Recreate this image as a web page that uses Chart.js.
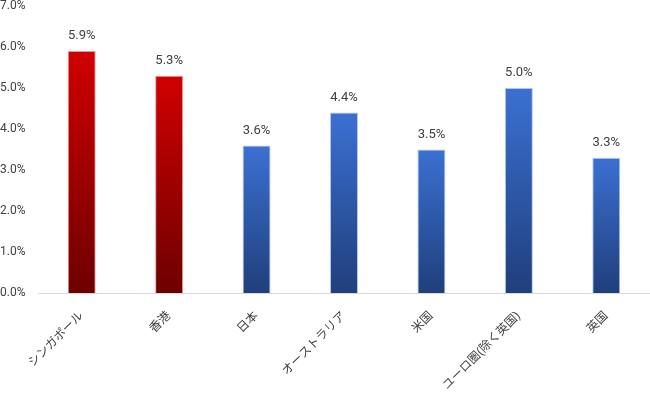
<!DOCTYPE html>
<html>
<head>
<meta charset="utf-8">
<script src="https://cdn.jsdelivr.net/npm/chart.js@4"></script>
<style>
  html, body { margin: 0; padding: 0; background: #fff; }
  #wrap { width: 650px; height: 393px; position: relative; }
</style>
</head>
<body>
<div id="wrap"><canvas id="chart"></canvas></div>
<script>
const categories = ['シンガポール', '香港', '日本', 'オーストラリア', '米国', 'ユーロ圏(除く英国)', '英国'];
const values = [5.9, 5.3, 3.6, 4.4, 3.5, 5.0, 3.3];
const highlight = [true, true, false, false, false, false, false];

const FONT = "Roboto, 'Noto Sans CJK JP', sans-serif";

// gradient per bar: light at top, dark at bottom
function barFill(ctx) {
    const chart = ctx.chart;
    const y = chart.scales.y;
    const red = highlight[ctx.dataIndex];
    if (!chart.chartArea || !y || ctx.raw === undefined) return red ? '#a00000' : '#2e58a8';
    const top = y.getPixelForValue(ctx.raw);
    const bot = y.getPixelForValue(0);
    if (!isFinite(top) || !isFinite(bot)) return red ? '#a00000' : '#2e58a8';
    const g = chart.ctx.createLinearGradient(0, top, 0, bot);
    if (red) {
        g.addColorStop(0, '#d00000');
        g.addColorStop(1, '#6e0000');
    } else {
        g.addColorStop(0, '#3b70d2');
        g.addColorStop(1, '#203f7c');
    }
    return g;
}

const valueLabels = {
    id: 'valueLabels',
    afterDatasetsDraw(chart) {
        const c = chart.ctx;
        const meta = chart.getDatasetMeta(0);
        c.save();
        c.font = '13px ' + FONT;
        c.fillStyle = '#404040';
        c.textAlign = 'center';
        c.textBaseline = 'middle';
        meta.data.forEach((bar, i) => {
            c.fillText(values[i].toFixed(1) + '%', bar.x, bar.y - 15);
        });
        c.restore();
    }
};

new Chart(document.getElementById('chart'), {
    type: 'bar',
    data: {
        labels: categories,
        datasets: [{
            data: values,
            backgroundColor: barFill,
            borderColor: ctx => highlight[ctx.dataIndex] ? 'rgba(230,80,80,0.6)' : 'rgba(120,160,230,0.6)',
            borderWidth: 1,
            barPercentage: 0.64,
            categoryPercentage: 0.5
        }]
    },
    options: {
        responsive: true,
        maintainAspectRatio: false,
        animation: false,
        layout: { padding: 0 },
        plugins: { legend: { display: false }, tooltip: { enabled: false } },
        scales: {
            x: {
                grid: { display: false },
                border: { color: '#d9d9d9', width: 1 },
                ticks: {
                    color: '#404040',
                    font: { family: FONT, size: 12 },
                    minRotation: 45,
                    maxRotation: 45,
                    padding: 8,
                    autoSkip: false
                },
                afterFit(axis) { axis.height = 100; }
            },
            y: {
                min: 0,
                max: 7,
                grid: { display: false },
                border: { display: false },
                ticks: {
                    stepSize: 1,
                    color: '#404040',
                    font: { family: FONT, size: 12 },
                    crossAlign: 'far',
                    callback: v => v.toFixed(1) + '%'
                },
                afterFit(axis) { axis.width = 38; axis.paddingTop = 6; }
            }
        }
    },
    plugins: [valueLabels]
});
</script>
</body>
</html>
